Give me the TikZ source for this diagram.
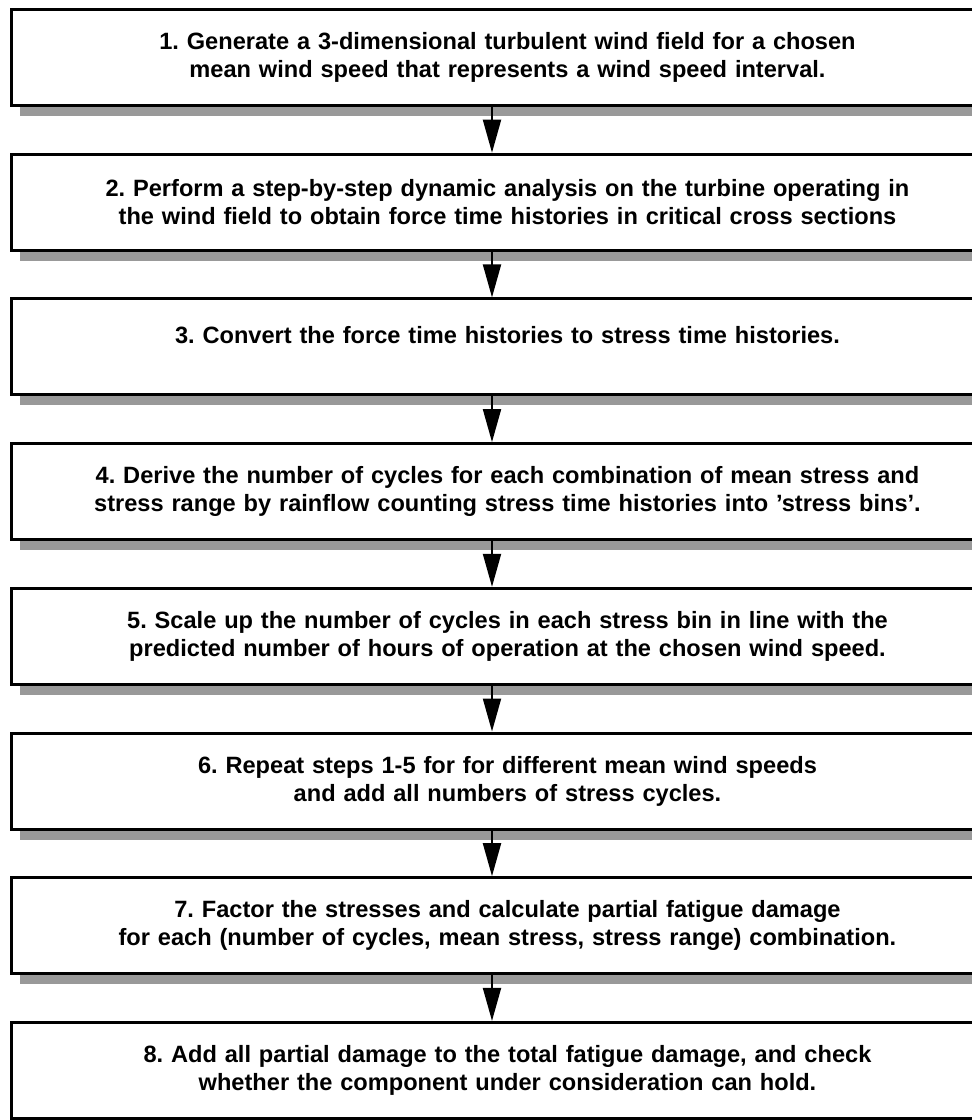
\documentclass[tikz,border=0pt]{standalone}
\usepackage{fontspec}
\setmainfont{Liberation Sans}
\usetikzlibrary{arrows.meta,calc}
\begin{document}
\begin{tikzpicture}[x=1pt,y=-1pt,
  stepbox/.style={draw=black,line width=3pt,fill=white,minimum width=992pt,minimum height=96pt,
    anchor=north west,inner sep=0pt,align=center,text width=980pt,
    font=\bfseries\fontsize{23.6}{28}\selectfont\frenchspacing},
  flow/.style={draw=black,line width=2pt,-{Triangle[length=33pt,width=18pt]}}]
\useasboundingbox (0,0) rectangle (972,1120);
\clip (0,0) rectangle (972,1120);
\foreach \i in {0,...,7}{
  \fill[black!40] (20,{8+\i*144.7+97}) rectangle (1010,{8+\i*144.7+108});
}
\node[stepbox] (b1) at (10,8) {1. Generate a 3-dimensional turbulent wind field for a chosen\\mean wind speed that represents a wind speed interval.};
\node[stepbox] (b2) at (10,152.7) {2. Perform a step-by-step dynamic analysis on the turbine operating in\\the wind field to obtain force time histories in critical cross sections};
\node[stepbox,text depth=24pt] (b3) at (10,297.4) {3. Convert the force time histories to stress time histories.};
\node[stepbox] (b4) at (10,442.1) {4. Derive the number of cycles for each combination of mean stress and\\stress range by rainflow counting stress time histories into 'stress bins'.};
\node[stepbox] (b5) at (10,586.8) {5. Scale up the number of cycles in each stress bin in line with the\\predicted number of hours of operation at the chosen wind speed.};
\node[stepbox] (b6) at (10,731.5) {6. Repeat steps 1-5 for for different mean wind speeds\\and add all numbers of stress cycles.};
\node[stepbox] (b7) at (10,876.2) {7. Factor the stresses and calculate partial fatigue damage\\for each (number of cycles, mean stress, stress range) combination.};
\node[stepbox] (b8) at (10,1020.9) {8. Add all partial damage to the total fatigue damage, and check\\whether the component under consideration can hold.};
\foreach \a/\b in {b1/b2,b2/b3,b3/b4,b4/b5,b5/b6,b6/b7,b7/b8}{
  \draw[flow] ($(\a.south west)+(482,0)$) -- ($(\b.north west)+(482,0)$);
}
\end{tikzpicture}
\end{document}
